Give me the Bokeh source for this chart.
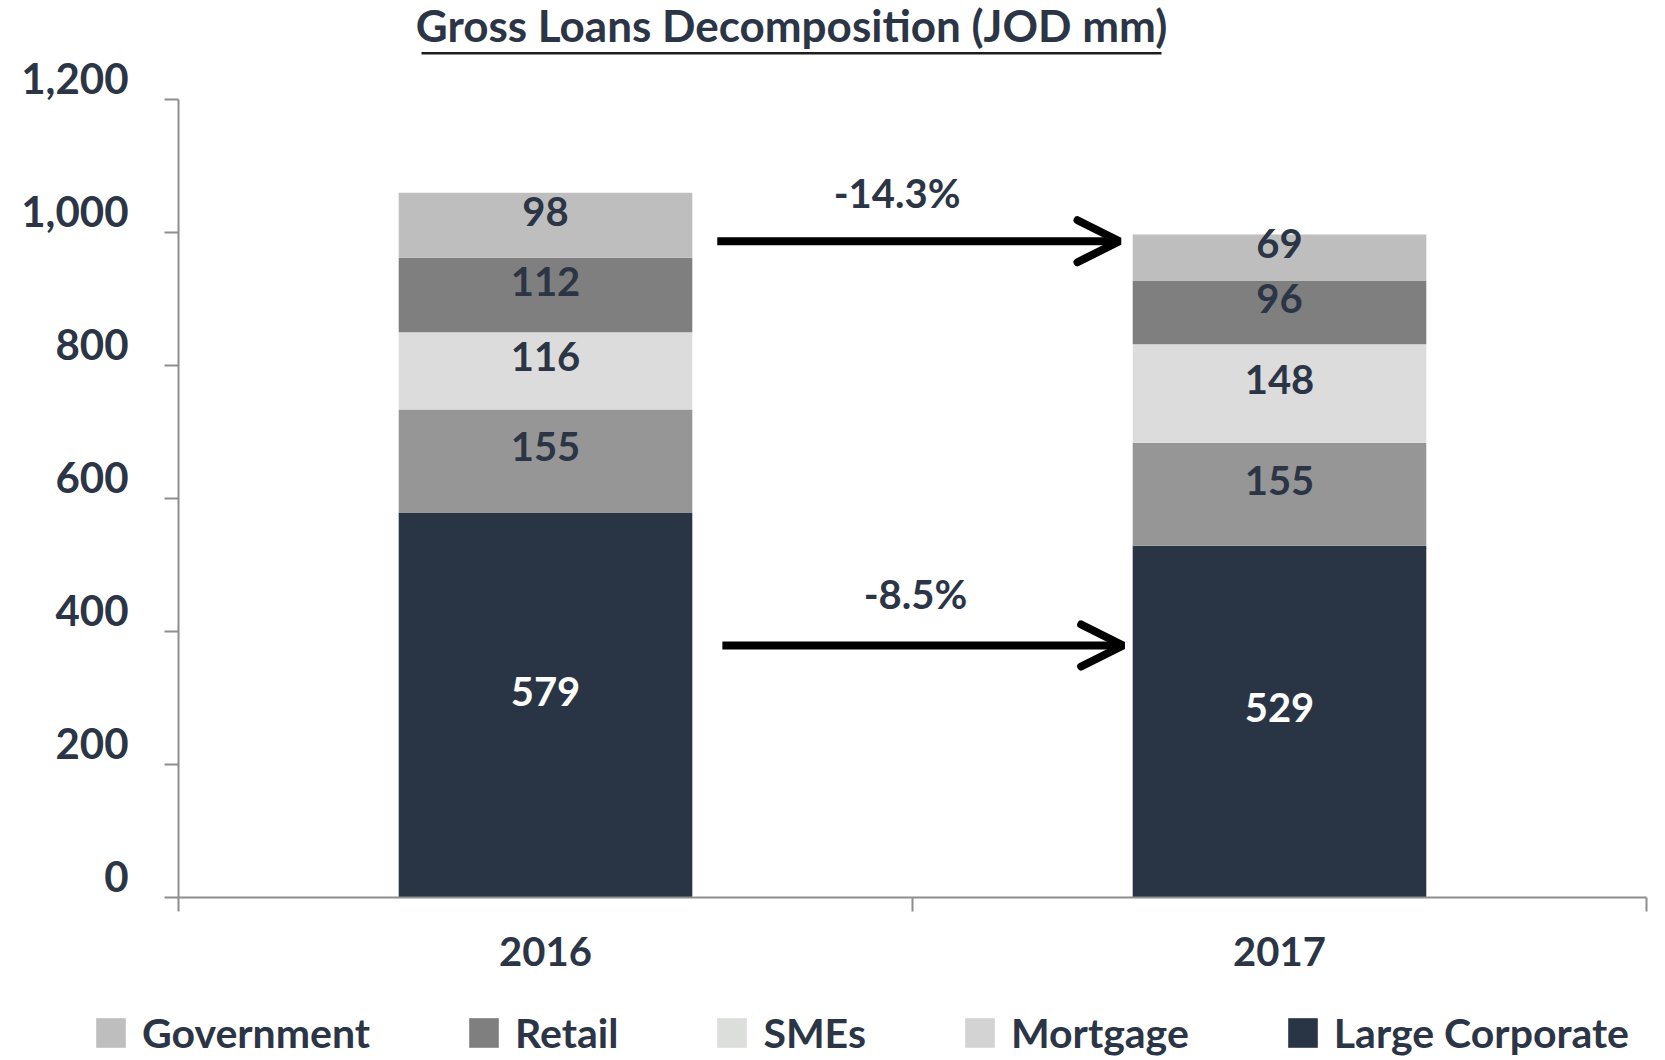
from bokeh.plotting import figure
from bokeh.models import (FactorRange, Range1d, LinearAxis, CategoricalAxis, FixedTicker,
                          ColumnDataSource, Arrow, OpenHead, Label, BoxAnnotation, Legend,
                          LegendItem, CustomJSTickFormatter)
from bokeh.core.properties import value
from bokeh.embed import file_html
from bokeh.resources import INLINE

# ---------------- data ----------------
years = ["2016", "2017"]
large_corporate = [579, 529]
mortgage = [155, 155]
smes = [116, 148]
retail = [112, 96]
government = [98, 69]

stack_names = ["large_corporate", "mortgage", "smes", "retail", "government"]   # bottom -> top
stack_values = [large_corporate, mortgage, smes, retail, government]
stack_colors = ["#293545", "#969696", "#DCDCDC", "#7F7F7F", "#BEBEBE"]
stack_label_colors = ["#FFFFFF", "#2B3545", "#2B3545", "#2B3545", "#2B3545"]

legend_labels = ["Government", "Retail", "SMEs", "Mortgage", "Large Corporate"]
legend_colors = ["#BEBEBE", "#7F7F7F", "#DCDEDB", "#D3D3D3", "#293545"]

y_ticks = [0, 200, 400, 600, 800, 1000, 1200]
change_total = "-14.3%"
change_corporate = "-8.5%"
title_text = "Gross Loans Decomposition (JOD mm)"

# ---------------- style ----------------
FONT = "Lato"
TXT = "#2B3545"
AX = "#8E8E8E"

p = figure(x_range=FactorRange(*years), y_range=Range1d(0, 1349),
           width=1655, height=990, output_backend="svg", toolbar_location=None,
           x_axis_location=None, y_axis_location=None,
           min_border_left=178, min_border_right=9, min_border_top=0, min_border_bottom=93)
p.outline_line_color = None
p.xgrid.visible = False
p.ygrid.visible = False
p.background_fill_color = "white"
p.border_fill_color = "white"

# stacked bars
data = {"year": years}
for n, v in zip(stack_names, stack_values):
    data[n] = v
src = ColumnDataSource(data)
p.vbar_stack(stack_names, x="year", width=0.4, color=stack_colors, line_color=None, source=src)

# segment labels (from the data)
lx, ly, lt, lc = [], [], [], []
for i, yr in enumerate(years):
    base = 0
    for vals, col in zip(stack_values, stack_label_colors):
        v = vals[i]
        lx.append(yr)
        ly.append(base + v / 2)
        lt.append(str(v))
        lc.append(col)
        base += v
lab_src = ColumnDataSource(dict(x=lx, y=ly, text=lt, color=lc))
p.text(x="x", y="y", text="text", text_color="color", source=lab_src,
       text_font=value(FONT), text_font_style="bold", text_font_size="40px",
       text_align="center", text_baseline="middle", y_offset=-14)

# y axis (labels sit just above their ticks, as in the reference)
yax = LinearAxis(ticker=FixedTicker(ticks=y_ticks), bounds=(0, 1200),
                 formatter=CustomJSTickFormatter(code="return tick.toLocaleString('en-US') + '\\n'"))
yax.axis_line_color = AX
yax.axis_line_width = 2
yax.major_tick_line_color = AX
yax.major_tick_line_width = 2
yax.major_tick_in = 0
yax.major_tick_out = 14
yax.minor_tick_line_color = None
yax.major_label_standoff = 36
yax.major_label_text_font = FONT
yax.major_label_text_font_style = "bold"
yax.major_label_text_font_size = "42px"
yax.major_label_text_line_height = 0.85
yax.major_label_text_color = TXT
p.add_layout(yax, "left")

# x axis line with ticks at the category boundaries (synthetic coordinates 0, 1, 2)
xnum = LinearAxis(ticker=FixedTicker(ticks=[0, 1, 2]),
                  formatter=CustomJSTickFormatter(code="return ''"))
xnum.axis_line_color = AX
xnum.axis_line_width = 2
xnum.major_tick_line_color = AX
xnum.major_tick_line_width = 2
xnum.major_tick_in = 0
xnum.major_tick_out = 14
xnum.minor_tick_line_color = None
xnum.major_label_standoff = 0
xnum.major_label_text_font_size = "1px"
p.add_layout(xnum, "below")

# category labels
xcat = CategoricalAxis()
xcat.axis_line_color = None
xcat.major_tick_line_color = None
xcat.major_tick_in = 0
xcat.major_tick_out = 0
xcat.major_label_standoff = 25
xcat.major_label_text_font = FONT
xcat.major_label_text_font_style = "bold"
xcat.major_label_text_font_size = "40px"
xcat.major_label_text_color = TXT
p.add_layout(xcat, "below")

# change arrows and labels (synthetic x coordinates on the category range)
for (x0, x1, yv, lbl, lxv, lyv) in [(0.734, 1.282, 987, change_total, 0.979, 1059),
                                    (0.741, 1.287, 379, change_corporate, 1.004, 457)]:
    p.add_layout(Arrow(x_start=x0, y_start=yv, x_end=x1, y_end=yv,
                       line_color="black", line_width=8,
                       end=OpenHead(size=42, line_color="black", line_width=8, line_cap="round")))
    p.add_layout(Label(x=lxv, y=lyv, text=lbl, text_align="center",
                       text_baseline="middle", text_font=FONT, text_font_style="bold",
                       text_font_size="40px", text_color=TXT))

# title + underline (screen units relative to the frame's bottom-left)
p.add_layout(Label(x=613, y=872.5, x_units="screen", y_units="screen", text=title_text,
                   text_align="center", text_baseline="middle", text_font=FONT,
                   text_font_style="bold", text_font_size="44px", text_color=TXT))
p.add_layout(BoxAnnotation(left=243, right=983, bottom=843, top=845.5, left_units="screen",
                           right_units="screen", top_units="screen", bottom_units="screen",
                           fill_color="#1E1E1E", fill_alpha=1.0, line_color=None))

# legend strip below the chart (its own canvas, so nothing is clipped)
lf = figure(width=1655, height=70, x_range=Range1d(0, 1), y_range=Range1d(0, 1),
            output_backend="svg", toolbar_location=None, x_axis_location=None,
            y_axis_location=None, min_border_left=0, min_border_right=0,
            min_border_top=0, min_border_bottom=0)
lf.outline_line_color = None
lf.xgrid.visible = False
lf.ygrid.visible = False
lf.border_fill_color = "white"
items = []
for lbl, col in zip(legend_labels, legend_colors):
    r = lf.vbar(x=[0.5], top=[1], width=0.1, fill_color=col, line_color=None, visible=False)
    items.append(LegendItem(label=lbl, renderers=[r]))
leg = Legend(items=items, orientation="horizontal", location=(92, 3))
leg.glyph_width = 37
leg.glyph_height = 37
leg.label_standoff = 13
leg.spacing = 95
leg.padding = 0
leg.margin = 0
leg.border_line_color = None
leg.background_fill_alpha = 0
leg.inactive_fill_alpha = 0
leg.label_text_font = FONT
leg.label_text_font_style = "bold"
leg.label_text_font_size = "41px"
leg.label_text_color = TXT
lf.add_layout(leg, "center")

open("out.html", "w").write(file_html([p, lf], INLINE))
